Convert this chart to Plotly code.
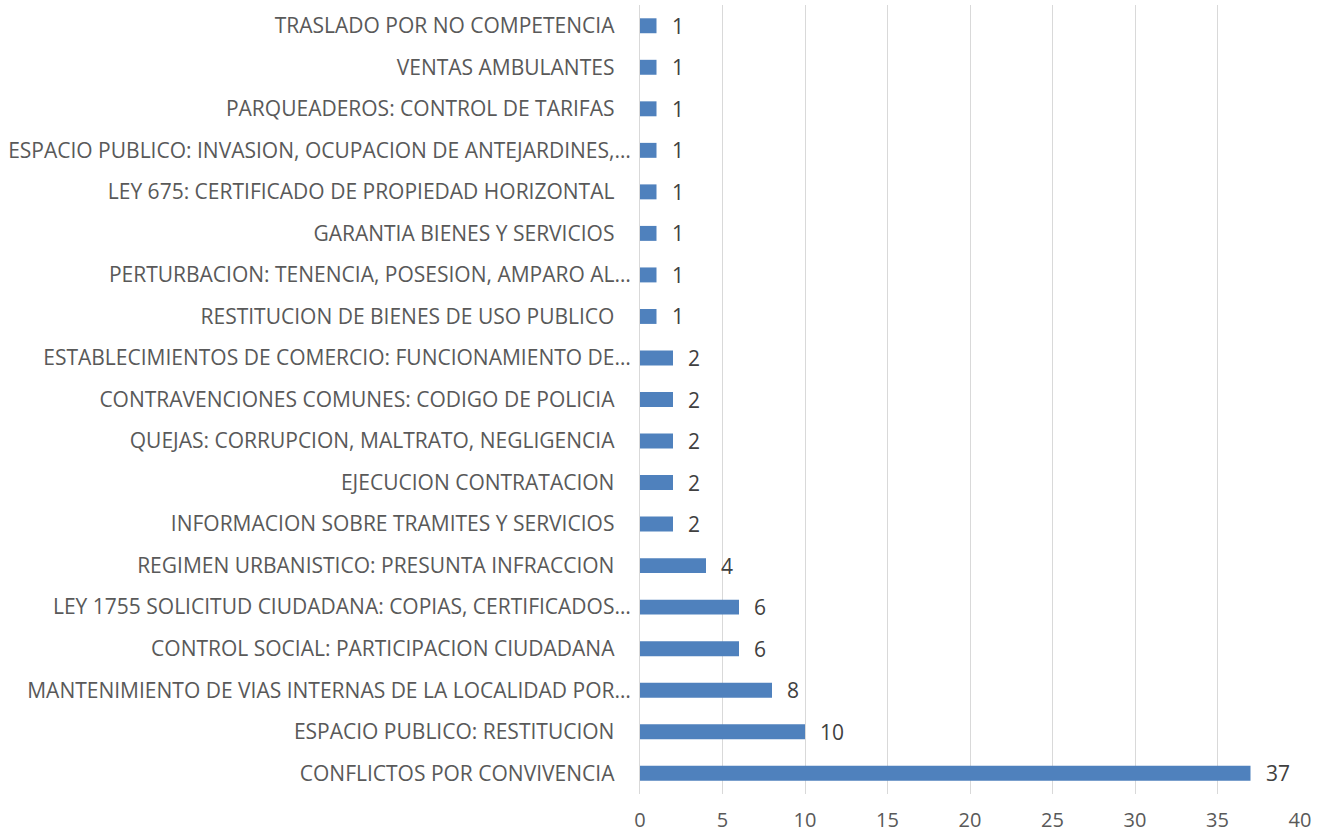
import plotly.graph_objects as go

categories = [
    "CONFLICTOS POR CONVIVENCIA",
    "ESPACIO PUBLICO: RESTITUCION",
    "MANTENIMIENTO DE VIAS INTERNAS DE LA LOCALIDAD POR…",
    "CONTROL SOCIAL: PARTICIPACION CIUDADANA",
    "LEY 1755 SOLICITUD CIUDADANA: COPIAS, CERTIFICADOS…",
    "REGIMEN URBANISTICO: PRESUNTA INFRACCION",
    "INFORMACION SOBRE TRAMITES Y SERVICIOS",
    "EJECUCION CONTRATACION",
    "QUEJAS: CORRUPCION, MALTRATO, NEGLIGENCIA",
    "CONTRAVENCIONES COMUNES: CODIGO DE POLICIA",
    "ESTABLECIMIENTOS DE COMERCIO: FUNCIONAMIENTO DE…",
    "RESTITUCION DE BIENES DE USO PUBLICO",
    "PERTURBACION: TENENCIA, POSESION, AMPARO AL…",
    "GARANTIA BIENES Y SERVICIOS",
    "LEY 675: CERTIFICADO DE PROPIEDAD HORIZONTAL",
    "ESPACIO PUBLICO: INVASION, OCUPACION DE ANTEJARDINES,…",
    "PARQUEADEROS: CONTROL DE TARIFAS",
    "VENTAS AMBULANTES",
    "TRASLADO POR NO COMPETENCIA",
]
values = [37, 10, 8, 6, 6, 4, 2, 2, 2, 2, 2, 1, 1, 1, 1, 1, 1, 1, 1]
x_ticks = [0, 5, 10, 15, 20, 25, 30, 35, 40]

FONT = "Open Sans"
ticktext = [c if c.endswith("…") else c + "\u00a0\u00a0\u00a0" for c in categories]

fig = go.Figure()
fig.add_trace(go.Bar(
    y=categories, x=values, orientation="h",
    marker=dict(color="#4F81BD", line=dict(width=0)),
    width=0.36,
))
for c, v in zip(categories, values):
    fig.add_annotation(x=v, y=c, text=str(v), showarrow=False,
                       xanchor="left", xshift=13,
                       font=dict(family=FONT, size=21, color="#404040"))

fig.update_layout(
    width=1318, height=837,
    margin=dict(l=640, r=18, t=5, b=43),
    paper_bgcolor="white", plot_bgcolor="white",
    showlegend=False,
    font=dict(family=FONT, color="#595959"),
)
fig.update_xaxes(range=[0, 40], tickvals=x_ticks, showgrid=True,
                 gridcolor="#D9D9D9", gridwidth=1, zeroline=False,
                 showline=False, ticks="", tickfont=dict(size=20, color="#595959"),
                 ticklabelstandoff=12, automargin=False)
fig.update_yaxes(tickmode="array", tickvals=categories, ticktext=ticktext,
                 showgrid=False, showline=True, linecolor="#D9D9D9",
                 ticks="", tickfont=dict(size=21, color="#595959"),
                 ticklabelstandoff=4, automargin=False)

fig.write_html("out.html")
